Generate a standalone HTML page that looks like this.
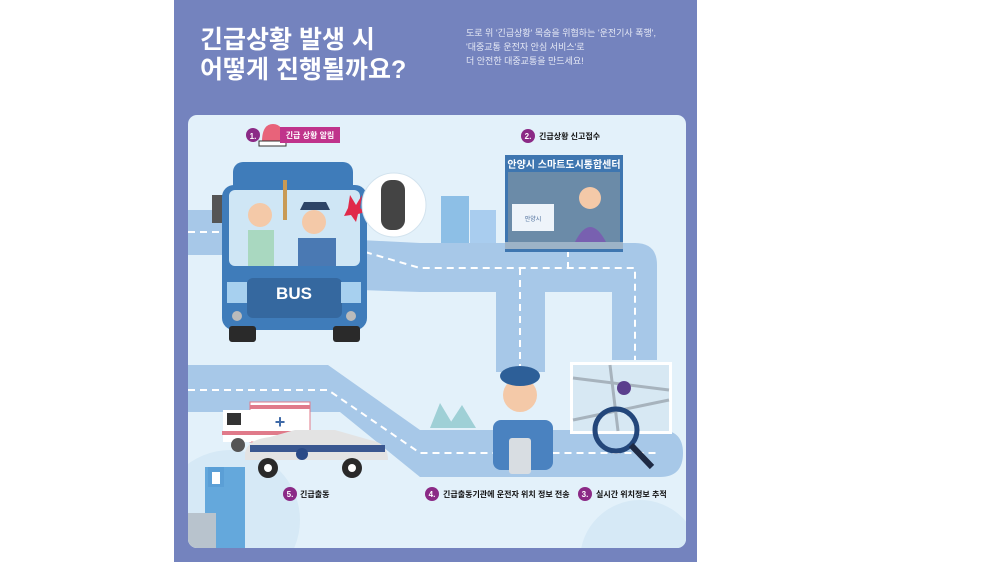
<!DOCTYPE html>
<html><head><meta charset="utf-8"><style>
html,body{margin:0;padding:0;background:#fff;width:1000px;height:562px;overflow:hidden;}
svg{display:block}
text{font-family:"Liberation Sans","Noto Sans CJK KR",sans-serif;}
</style></head><body>
<svg width="1000" height="562" viewBox="0 0 1000 562" xmlns="http://www.w3.org/2000/svg">
<defs><clipPath id="c"><rect x="188" y="115" width="498" height="433" rx="9"/></clipPath></defs>
<rect x="0" y="0" width="1000" height="562" fill="#fff"/>
<rect x="174" y="0" width="523" height="562" fill="#7483be"/>
<text x="200" y="48" font-size="25" font-weight="bold" fill="#fff">긴급상황 발생 시</text>
<text x="200" y="78" font-size="25" font-weight="bold" fill="#fff">어떻게 진행될까요?</text>
<text x="466" y="36" font-size="9" fill="#e6e9f5">도로 위 '긴급상황' 목숨을 위협하는 '운전기사 폭행',</text>
<text x="466" y="50" font-size="9" fill="#e6e9f5">'대중교통 운전자 안심 서비스'로</text>
<text x="466" y="64" font-size="9" fill="#e6e9f5">더 안전한 대중교통을 만드세요!</text>
<rect x="188" y="115" width="498" height="433" rx="9" fill="#e3f1fa"/>
<g clip-path="url(#c)">
<circle cx="230" cy="520" r="70" fill="#d6e9f6"/>
<circle cx="640" cy="560" r="60" fill="#d6e9f6"/>
<!-- top roads -->
<path d="M188 210 H240 V255 H188Z" fill="#a7c8e8"/>
<path d="M360 240 L420 243 H635 Q657 243 657 265 V360 H612 V292 H545 V372 H496 V292 H420 L360 290Z" fill="#a7c8e8"/>
<path d="M188 232 H235 M365 252 L420 268 H635 V360 M520 268 V372 M568 250 V268" stroke="#fff" stroke-width="2" stroke-dasharray="7 5" fill="none"/>
<!-- lower roads -->
<path d="M188 365 H328 L420 430 H660 Q683 430 683 453 Q683 477 660 477 H420 L340 412 H188Z" fill="#a7c8e8"/>
<path d="M188 390 H328 L420 453 H660" stroke="#fff" stroke-width="2" stroke-dasharray="7 5" fill="none"/>
<!-- buildings -->
<rect x="441" y="196" width="28" height="47" fill="#8dbfe6"/>
<rect x="470" y="210" width="26" height="33" fill="#a9cdef"/>
<rect x="205" y="467" width="40" height="81" fill="#64a8dc"/>
<rect x="208" y="467" width="16" height="20" fill="#5b9fd6"/><rect x="212" y="472" width="8" height="12" fill="#fff"/>
<rect x="188" y="513" width="28" height="35" fill="#b8c3cd"/>
<path d="M430 428 L440 403 L455 428Z M447 428 L462 405 L476 428Z" fill="#9fd0d6"/>
</g>
<!-- bus -->
<rect x="233" y="162" width="120" height="40" rx="10" fill="#3f7cba"/>
<rect x="212" y="195" width="12" height="28" fill="#555"/>
<rect x="222" y="185" width="145" height="145" rx="12" fill="#3f7cba"/>
<rect x="229" y="190" width="131" height="76" rx="6" fill="#cfe6f5"/>
<rect x="247" y="278" width="95" height="40" rx="6" fill="#35689f"/>
<text x="294" y="299" font-size="17" font-weight="bold" fill="#fff" text-anchor="middle">BUS</text>
<rect x="227" y="282" width="20" height="21" fill="#a7d0ef"/>
<rect x="341" y="282" width="20" height="21" fill="#a7d0ef"/>
<circle cx="237" cy="316" r="5" fill="#bbb"/><circle cx="351" cy="316" r="5" fill="#bbb"/>
<rect x="229" y="326" width="27" height="16" rx="3" fill="#2a2a2a"/>
<rect x="333" y="326" width="27" height="16" rx="3" fill="#2a2a2a"/>
<circle cx="260" cy="215" r="12" fill="#f4c9a8"/><rect x="248" y="230" width="26" height="36" fill="#a9d8c0"/>
<circle cx="314" cy="222" r="12" fill="#f4c9a8"/><path d="M300 210 H330 L326 202 H304Z" fill="#2d4466"/><rect x="298" y="238" width="38" height="28" fill="#4a79b3"/>
<rect x="283" y="180" width="4" height="40" fill="#c89a55"/>
<polygon points="350,195 356,205 362,195 360,208 366,212 358,214 356,222 351,215 344,216 348,208" fill="#e02a4a"/>
<circle cx="394" cy="205" r="32" fill="#fff" stroke="#d3e3ee"/>
<rect x="381" y="180" width="24" height="50" rx="10" fill="#444"/>
<!-- step 1 -->
<circle cx="253" cy="135" r="7" fill="#8b2a86"/><text x="253" y="139" font-size="8" fill="#fff" text-anchor="middle" font-weight="bold">1.</text>
<path d="M262 142 Q262 124 273 124 Q284 124 284 142Z" fill="#e8637a"/><rect x="259" y="141" width="27" height="5" fill="#fff" stroke="#333"/>
<rect x="280" y="127" width="60" height="16" fill="#c0338b"/>
<text x="310" y="138" font-size="8" fill="#fff" text-anchor="middle" font-weight="bold">긴급 상황 알림</text>
<!-- step 2 -->
<circle cx="528" cy="136" r="7" fill="#8b2a86"/><text x="528" y="139" font-size="8" fill="#fff" text-anchor="middle" font-weight="bold">2.</text>
<text x="539" y="139" font-size="8" fill="#111" font-weight="bold">긴급상황 신고접수</text>
<rect x="505" y="155" width="118" height="97" fill="#3e76b0"/>
<rect x="508" y="172" width="112" height="72" fill="#6b8ba8"/>
<text x="564" y="168" font-size="10" fill="#fff" text-anchor="middle" font-weight="bold">안양시 스마트도시통합센터</text>
<rect x="512" y="204" width="42" height="27" fill="#eef4fa"/><text x="533" y="221" font-size="6" fill="#4a6c9a" text-anchor="middle">안양시</text>
<circle cx="590" cy="198" r="11" fill="#f4c9a8"/><path d="M575 242 Q590 212 606 242Z" fill="#7860b0"/>
<rect x="505" y="242" width="118" height="7" fill="#9db3c7"/>
<!-- ambulance & police car -->
<rect x="250" y="402" width="60" height="40" fill="#fff" stroke="#e07a8a"/>
<rect x="223" y="410" width="28" height="32" fill="#fff"/><rect x="227" y="413" width="14" height="12" fill="#333"/>
<rect x="250" y="405" width="60" height="4" fill="#e07a8a"/><rect x="222" y="431" width="88" height="4" fill="#e07a8a"/>
<text x="280" y="428" font-size="18" fill="#3f6aa8" text-anchor="middle" font-weight="bold">+</text>
<circle cx="238" cy="445" r="7" fill="#555"/>
<path d="M245 455 Q245 440 270 437 L295 430 H335 L370 440 Q388 443 388 460 H245Z" fill="#e3e3e3"/>
<path d="M250 445 H385 V452 H250Z" fill="#3a5790"/>
<circle cx="268" cy="468" r="10" fill="#2a2a2a"/><circle cx="268" cy="468" r="4" fill="#fff"/>
<circle cx="352" cy="468" r="10" fill="#2a2a2a"/><circle cx="352" cy="468" r="4" fill="#fff"/>
<circle cx="302" cy="454" r="6" fill="#2b4a86"/>
<!-- police -->
<rect x="493" y="420" width="60" height="50" rx="8" fill="#4a82c0"/>
<circle cx="520" cy="395" r="17" fill="#f4c9a8"/>
<ellipse cx="520" cy="376" rx="20" ry="10" fill="#2d5f98"/>
<rect x="509" y="438" width="22" height="36" rx="3" fill="#d8dde2"/>
<!-- map -->
<rect x="570" y="362" width="102" height="72" fill="#fff"/>
<rect x="573" y="365" width="96" height="66" fill="#d7e8f3"/>
<path d="M573 378 L669 390 M610 365 L618 431 M573 420 L669 400" stroke="#a7b3bd" stroke-width="3"/>
<circle cx="624" cy="388" r="7" fill="#5b3f8d"/>
<circle cx="616" cy="430" r="21" fill="none" stroke="#23467a" stroke-width="5"/>
<path d="M631 445 L652 467" stroke="#1e2a44" stroke-width="6"/>
<!-- bottom labels -->
<circle cx="290" cy="494" r="7" fill="#8b2a86"/><text x="290" y="497" font-size="8" fill="#fff" text-anchor="middle" font-weight="bold">5.</text>
<text x="300" y="497" font-size="8" fill="#111" font-weight="bold">긴급출동</text>
<circle cx="432" cy="494" r="7" fill="#8b2a86"/><text x="432" y="497" font-size="8" fill="#fff" text-anchor="middle" font-weight="bold">4.</text>
<text x="443" y="497" font-size="8" fill="#111" font-weight="bold">긴급출동기관에 운전자 위치 정보 전송</text>
<circle cx="585" cy="494" r="7" fill="#8b2a86"/><text x="585" y="497" font-size="8" fill="#fff" text-anchor="middle" font-weight="bold">3.</text>
<text x="596" y="497" font-size="8" fill="#111" font-weight="bold">실시간 위치정보 추적</text>
</svg>
</body></html>
